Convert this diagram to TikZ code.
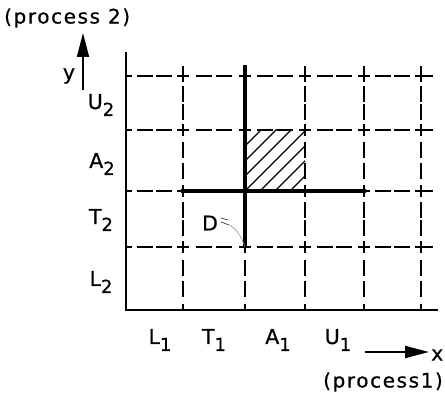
\documentclass[tikz,border=0pt]{standalone}
\usepackage{fontspec}
\setmainfont[FakeBold=0.6]{DejaVu Sans}
\newfontfamily\widefont[LetterSpace=8,FakeBold=0.6]{DejaVu Sans}
\usetikzlibrary{arrows.meta}
\newcommand\sbs[1]{\raisebox{-7pt}{\fontsize{18}{18}\selectfont #1}}
\begin{document}
\begin{tikzpicture}[x=1pt,y=-1pt,
  axisline/.style={line width=2.6pt},
  boldline/.style={line width=3.2pt},
  dsh/.style={line width=1.5pt},
  hatch/.style={line width=1.1pt},
  lab/.style={font=\fontsize{20.5}{22}\selectfont, inner sep=0pt},
  captext/.style={font=\widefont\fontsize{20}{22}\selectfont, inner sep=0pt},
  arr/.style={line width=1.8pt, -{Triangle[length=24pt,width=12pt]}}]
\useasboundingbox (0,0) rectangle (445,396);
% hatching
\begin{scope}
  \clip (245,130) rectangle (305,191);
  \foreach \k in {-5,...,4} \draw[hatch] (245+\k*15,191) -- ++(75,-75);
\end{scope}
% dashed grid: horizontal lines
\foreach \yy in {76,130,191,247}{
  \foreach \a/\b in {126/183,183/245,245/305,305/364,364/421}{
    \draw[dsh] ({\a+(\b-\a)/3-8},\yy) -- ({\a+(\b-\a)/3+8},\yy);
    \draw[dsh] ({\a+2*(\b-\a)/3-8},\yy) -- ({\a+2*(\b-\a)/3+8},\yy);
  }
  \draw[dsh] (126,\yy) -- (132,\yy);
  \foreach \xx in {183,245,305,364,421} \draw[dsh] (\xx-6,\yy) -- (\xx+6,\yy);
  \draw[dsh] (421,\yy) -- (433,\yy);
}
% dashed grid: vertical lines
\foreach \xx in {183,245,305,364,421}{
  \foreach \a/\b in {310/247,247/191,191/130,130/76}{
    \draw[dsh] (\xx,{\a+(\b-\a)/3-8}) -- (\xx,{\a+(\b-\a)/3+8});
    \draw[dsh] (\xx,{\a+2*(\b-\a)/3-8}) -- (\xx,{\a+2*(\b-\a)/3+8});
  }
  \draw[dsh] (\xx,310) -- (\xx,304);
  \foreach \yy in {76,130,191,247} \draw[dsh] (\xx,\yy-6) -- (\xx,\yy+6);
  \draw[dsh] (\xx,76) -- (\xx,66);
}
% axes
\coordinate (O) at (126,310);
\coordinate (ytop) at (126,52);
\coordinate (xend) at (438,310);
\draw[axisline] (ytop) -- (O) -- (xend);
% bold lines
\coordinate (vtop) at (245,65);
\coordinate (vbot) at (245,247);
\coordinate (hl) at (181,191);
\coordinate (hr) at (366,191);
\draw[boldline] (vtop) -- (vbot);
\draw[boldline] (hl) -- (hr);
% axis arrows
\coordinate (ya) at (83,90);
\coordinate (yb) at (83,33);
\draw[arr] (ya) -- (yb);
\coordinate (xa) at (365,352);
\coordinate (xb) at (429,352);
\draw[arr] (xa) -- (xb);
\node[lab, anchor=west] (xlab) at (431,355) {x};
\node[lab] (ylab) at (69,76) {y};
\node[captext, anchor=west] (p2) at (4,18) {(process 2)};
\node[captext, anchor=east] (p1) at (443,382) {(process1)};
% y labels
\node[lab] (U2) at (101,105) {U\sbs{2}};
\node[lab] (A2) at (102,164) {A\sbs{2}};
\node[lab] (T2) at (101,220) {T\sbs{2}};
\node[lab] (L2) at (101,282) {L\sbs{2}};
% x labels
\node[lab] (L1) at (160,340) {L\sbs{1}};
\node[lab] (T1) at (214,340) {T\sbs{1}};
\node[lab] (A1) at (278,340) {A\sbs{1}};
\node[lab] (U1) at (338,340) {U\sbs{1}};
% D and its leader
\node[lab] (D) at (210,223) {D};
\draw[line width=0.5pt] (221,218) -- (228,220);
\draw[line width=0.5pt] (221,222) -- (229,225);
\draw[line width=0.5pt, gray] (229,225) .. controls (237,229) and (241,236) .. (vbot);
\end{tikzpicture}
\end{document}
